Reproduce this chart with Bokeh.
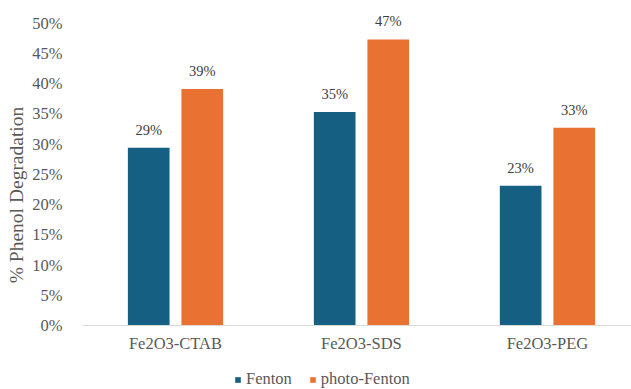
from bokeh.plotting import figure
from bokeh.models import (ColumnDataSource, Range1d, FixedTicker, NumeralTickFormatter,
                          LabelSet, Legend, LegendItem, Title)
from bokeh.transform import dodge
from bokeh.embed import file_html
from bokeh.resources import INLINE

categories = ["Fe2O3-CTAB", "Fe2O3-SDS", "Fe2O3-PEG"]
fenton = [0.294, 0.353, 0.231]
photo_fenton = [0.391, 0.473, 0.327]
y_ticks = [0.0, 0.05, 0.10, 0.15, 0.20, 0.25, 0.30, 0.35, 0.40, 0.45, 0.50]

BLUE = "#156082"
ORANGE = "#E97132"
GREY = "#595959"

idx = list(range(len(categories)))
source = ColumnDataSource(dict(
    x=idx,
    fenton=fenton,
    photo=photo_fenton,
    fenton_lbl=[f"{v:.0%}" for v in fenton],
    photo_lbl=[f"{v:.0%}" for v in photo_fenton],
))

# the plot area runs the full height; the value axis leaves room
# under zero for the category labels and the legend
p = figure(width=631, height=389, output_backend="svg", toolbar_location=None,
           x_range=Range1d(-0.5, 2.452), y_range=Range1d(-0.1059, 0.5375),
           min_border_left=77, min_border_right=0, min_border_top=0, min_border_bottom=0)

bar_w = 0.224
off = 0.144
r1 = p.vbar(x=dodge("x", -off, range=p.x_range), top="fenton", width=bar_w, source=source,
            fill_color=BLUE, line_color=None)
r2 = p.vbar(x=dodge("x", off, range=p.x_range), top="photo", width=bar_w, source=source,
            fill_color=ORANGE, line_color=None)

for col, lbl, o in (("fenton", "fenton_lbl", -off), ("photo", "photo_lbl", off)):
    p.add_layout(LabelSet(x=dodge("x", o, range=p.x_range), y=col, text=lbl, source=source,
                          text_align="center", text_baseline="middle", y_offset=18,
                          text_font="Liberation Sans", text_font_size="14.5px",
                          text_color="#404040"))

p.xaxis.fixed_location = 0
p.xaxis.ticker = FixedTicker(ticks=idx)
p.xaxis.major_label_overrides = {i: c for i, c in zip(idx, categories)}
p.yaxis.ticker = FixedTicker(ticks=y_ticks)
p.yaxis.formatter = NumeralTickFormatter(format="0%")

for ax in (p.xaxis[0], p.yaxis[0]):
    ax.major_tick_line_color = None
    ax.minor_tick_line_color = None
    ax.major_label_text_font = "Liberation Serif"
    ax.major_label_text_font_size = "16.5px"
    ax.major_label_text_color = GREY

p.xaxis.axis_line_color = "#D9D9D9"
p.xaxis.major_label_standoff = 3
p.yaxis.axis_line_color = None
p.yaxis.major_label_standoff = 14

ytitle = Title(text="% Phenol Degradation", align="center", offset=19, standoff=6,
               text_font="Liberation Serif", text_font_size="19.5px",
               text_font_style="normal", text_color=GREY)
p.add_layout(ytitle, "left")

p.xgrid.grid_line_color = None
p.ygrid.grid_line_color = None
p.outline_line_color = None

legend = Legend(items=[LegendItem(label="Fenton", renderers=[r1]),
                       LegendItem(label="photo-Fenton", renderers=[r2])],
                orientation="horizontal", location=(152, 0),
                glyph_width=7, glyph_height=7, label_standoff=5, spacing=17,
                label_height=16, padding=0, margin=0,
                label_text_font="Liberation Serif", label_text_font_size="16.5px",
                label_text_color=GREY, border_line_color=None, background_fill_alpha=0)
p.add_layout(legend, "center")

open("out.html", "w").write(file_html(p, INLINE))
